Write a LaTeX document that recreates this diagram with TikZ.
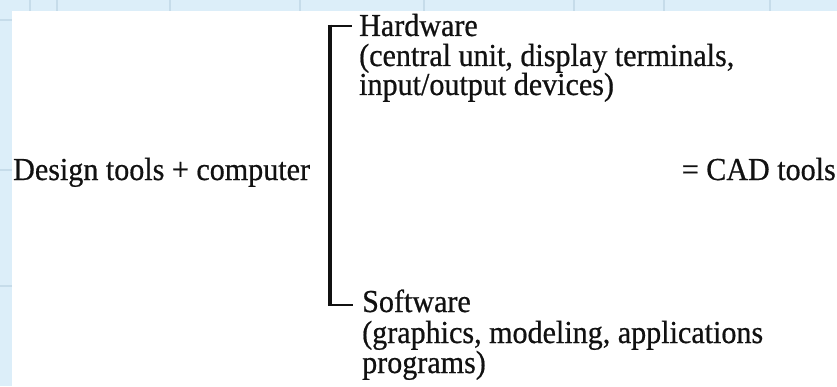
\documentclass[tikz,border=0pt]{standalone}
\usepackage{fontspec}
\setmainfont{Liberation Serif}[FakeStretch=0.94, FakeBold=0.6]
\definecolor{slideblue}{HTML}{DCEEF9}
\definecolor{seamblue}{HTML}{C6DCEA}
\definecolor{ink}{HTML}{111111}
\begin{document}
\begin{tikzpicture}[x=1pt,y=1pt,
  txt/.style={inner sep=0pt, anchor=base west, text=ink,
              font=\fontsize{32}{32}\selectfont},
  txtr/.style={txt, anchor=base east},
  seam/.style={seamblue, line width=1.2pt},
  stem/.style={ink, line width=4.5pt},
  arm/.style={ink, line width=2.6pt}]
\useasboundingbox (0,0) rectangle (837,386);
% slide background with its tile seams
\fill[slideblue] (0,0) rectangle (837,386);
\foreach \sx in {30,57,170,300,424,574,664,770}
  \draw[seam] (\sx,375) -- (\sx,386);
\foreach \sy in {366,216,100}
  \draw[seam] (0,\sy) -- (12,\sy);
\fill[white] (12,0) rectangle (837,375);
% left and right terms
\node[txt]  (design) at (13,206) {Design tools + computer};
\node[txtr] (cad)    at (836,206) {= CAD tools};
% upper branch
\node[txt] (hw)  at (359,350) {Hardware};
\node[txt] (hw2) at (359,320) {(central unit, display terminals,};
\node[txt] (hw3) at (359,291) {input/output devices)};
% lower branch
\node[txt] (sw)  at (362,74) {Software};
\node[txt] (sw2) at (362,43) {(graphics, modeling, applications};
\node[txt] (sw3) at (362,13) {programs)};
% bracket joining the two branches
\coordinate (top)  at (330,360);
\coordinate (bot)  at (330,81);
\coordinate (topr) at ([xshift=-7pt]hw.west |- top);
\coordinate (botr) at ([xshift=-9pt]sw.west |- bot);
\draw[stem] ([yshift=1.3pt]top) -- ([yshift=-1.3pt]bot);
\draw[arm] ([xshift=-2.2pt]top) -- (topr);
\draw[arm] ([xshift=-2.2pt]bot) -- (botr);
\end{tikzpicture}
\end{document}
